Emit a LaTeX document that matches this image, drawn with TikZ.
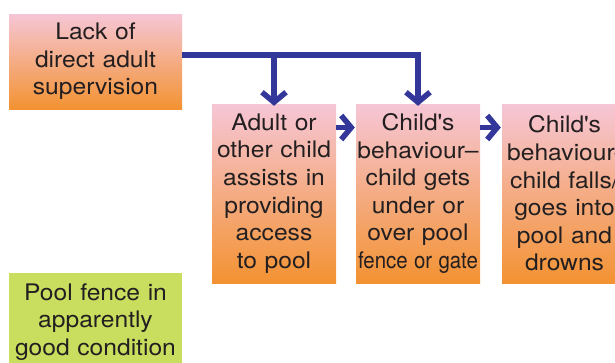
\documentclass[tikz,border=0pt]{standalone}
\usepackage{fontspec}
\setmainfont{TeX Gyre Heros}[FakeStretch=1.08]
\usetikzlibrary{arrows.meta}
\definecolor{boxtop}{HTML}{F6C6D6}
\definecolor{boxbottom}{HTML}{F39232}
\definecolor{fencegreen}{HTML}{C9DD5E}
\definecolor{linkblue}{HTML}{34379A}
\definecolor{ink}{HTML}{231F20}
\newcommand{\apos}{\textquotesingle}
\tikzset{
  x=1pt, y=-1pt,
  factor/.style={shading=axis, top color=boxtop, bottom color=boxbottom,
    draw=none, text=ink, align=center, inner sep=0pt,
    font=\fontsize{22.8}{27.6}\selectfont},
  fence/.style={fill=fencegreen, draw=none, text=ink, align=center, inner sep=0pt,
    font=\fontsize{22.8}{27.6}\selectfont},
  link/.style={draw=linkblue, line width=5.5pt},
  flow/.style={link, line join=miter,
    -{Straight Barb[length=10pt, width=24pt, line width=5.5pt]}},
}
\begin{document}
\begin{tikzpicture}
\useasboundingbox (0,0) rectangle (615,362);
\clip (0,0) rectangle (615,362);

% contributing factors
\node[factor, minimum width=173pt, minimum height=95pt, text width=173pt]
  (b1) at (95.5,61.5) {Lack of\\direct adult\\supervision};
\node[factor, minimum width=124pt, minimum height=179pt, text width=124pt]
  (b2) at (274,193.5) {Adult or\\other child\\assists in\\providing\\access\\to pool};
\node[factor, minimum width=124pt, minimum height=179pt, text width=124pt]
  (b3) at (418,193.5) {Child\apos s\\behaviour–\\child gets\\under or\\over pool\\\scalebox{0.83}[1]{fence or gate}};
\node[factor, minimum width=125pt, minimum height=179pt, text width=125pt]
  (b4) at (564.5,193.5) {Child\apos s\\behaviour-\\child falls/\\goes into\\pool and\\drowns};
\node[fence, minimum width=173pt, minimum height=98pt, text width=173pt]
  (b5) at (95.5,322) {Pool fence in\\apparently\\good condition};

% supervision link feeding the two behaviour steps
\coordinate (j) at ([yshift=6.5pt]b1.east);
\draw[link] (j) -| ([yshift=-2pt]b3.north |- j);
\draw[flow] (b2.north |- j) -- ([yshift=-2pt]b2.north);
\draw[flow] (b3.north |- j) -- ([yshift=-2pt]b3.north);

% sequence of events
\draw[flow] ([yshift=66pt]b2.east) -- ([yshift=66pt,xshift=-1pt]b3.west);
\draw[flow] ([yshift=66pt]b3.east) -- ([yshift=66pt,xshift=-1pt]b4.west);
\end{tikzpicture}
\end{document}
